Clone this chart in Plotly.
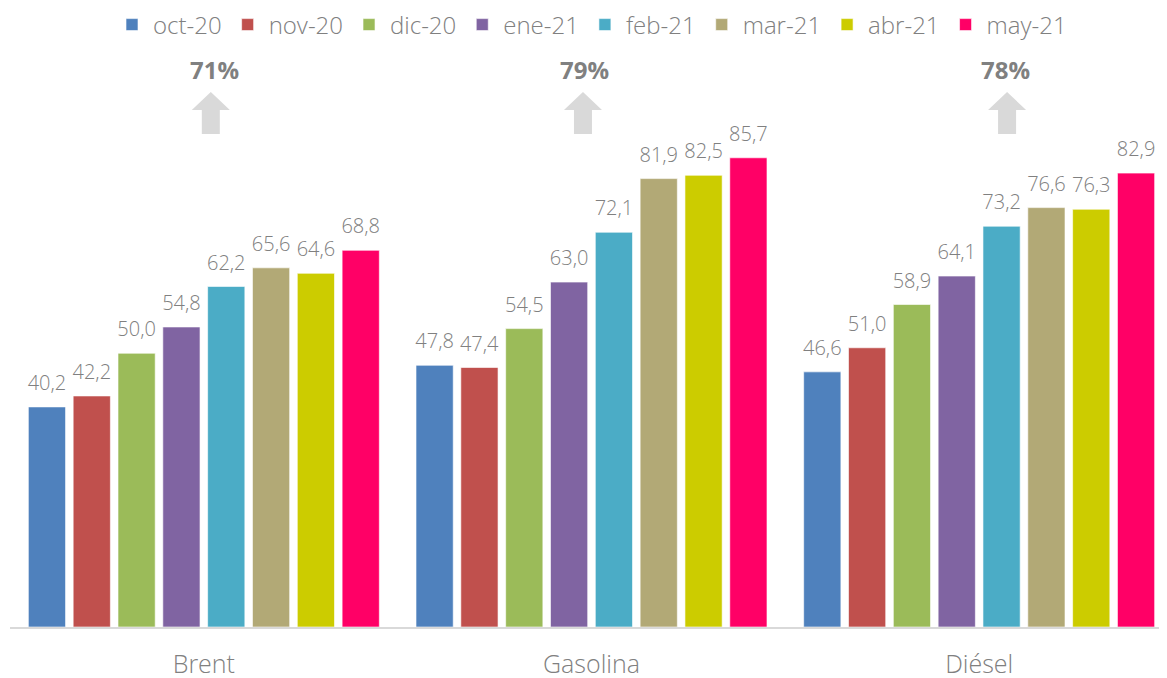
import plotly.graph_objects as go

categories = ["Brent", "Gasolina", "Diésel"]
months = ["oct-20", "nov-20", "dic-20", "ene-21", "feb-21", "mar-21", "abr-21", "may-21"]
brent = [40.2, 42.2, 50.0, 54.8, 62.2, 65.6, 64.6, 68.8]
gasolina = [47.8, 47.4, 54.5, 63.0, 72.1, 81.9, 82.5, 85.7]
diesel = [46.6, 51.0, 58.9, 64.1, 73.2, 76.6, 76.3, 82.9]
colors = ["#4F81BD", "#C0504D", "#9BBB59", "#8064A2", "#4BACC6", "#B2A976", "#CCCC00", "#FF0066"]
pct_labels = ["71%", "79%", "78%"]
pct_text_x = [0.028, 0.981, 2.067]
arrow_x = [0.018, 0.978, 2.072]

GREY = "#808080"
FONT = "Open Sans"
LABEL_LIFT = 1.45  # data units (~8 px) gap between bar top and value label

fig = go.Figure()
for i, m in enumerate(months):
    vals = [brent[i], gasolina[i], diesel[i]]
    fig.add_trace(go.Bar(
        name=m, x=categories, y=vals, offsetgroup=m,
        marker=dict(color=colors[i], line=dict(color="rgba(255,255,255,0.6)", width=1)),
        hoverinfo="skip",
    ))
    fig.add_trace(go.Bar(
        name=m, x=categories, y=vals, base=[LABEL_LIFT] * len(vals), offsetgroup=m,
        marker=dict(color="rgba(0,0,0,0)", line=dict(width=0)),
        texttemplate="%{y:.1f}", textposition="outside", constraintext="none",
        cliponaxis=False, showlegend=False, hoverinfo="skip",
        textfont=dict(family=FONT, size=20, color=GREY, weight=300),
    ))

for tx, ax, t in zip(pct_text_x, arrow_x, pct_labels):
    fig.add_annotation(x=tx, y=(619 - 61) / 577, xref="x", yref="paper", yanchor="middle",
                       text=f"<b>{t}</b>", showarrow=False,
                       font=dict(family=FONT, size=24, color=GREY))
    # block arrow
    fig.add_shape(type="path", xref="x", yref="paper", xsizemode="pixel", ysizemode="pixel",
                  xanchor=ax, yanchor=(619 - 126) / 577,
                  path="M-9,0 L9,0 L9,24 L19,24 L0,42 L-19,24 L-9,24 Z",
                  fillcolor="#d9d9d9", line=dict(width=0))

fig.update_layout(
    width=1167, height=678,
    margin=dict(l=2, r=2, t=42, b=59),
    paper_bgcolor="white", plot_bgcolor="white",
    separators=",.",
    barmode="group", bargap=0.075, bargroupgap=0.17,
    font=dict(family=FONT, color=GREY),
    legend=dict(orientation="h", xref="container", yref="container",
                x=0.5, xanchor="center", y=1 - 17 / 678, yanchor="middle",
                itemwidth=32,
                font=dict(family=FONT, size=24, color=GREY, weight=300), traceorder="normal"),
    xaxis=dict(range=[-0.5, 2.5], showline=True, linecolor="#d9d9d9", linewidth=2,
               ticks="", tickfont=dict(family=FONT, size=25, color=GREY, weight=300),
               ticklabelstandoff=14, showgrid=False, automargin=False),
    yaxis=dict(range=[0, 577 / 5.475], visible=False, showgrid=False, zeroline=False),
)

fig.write_html("out.html")
